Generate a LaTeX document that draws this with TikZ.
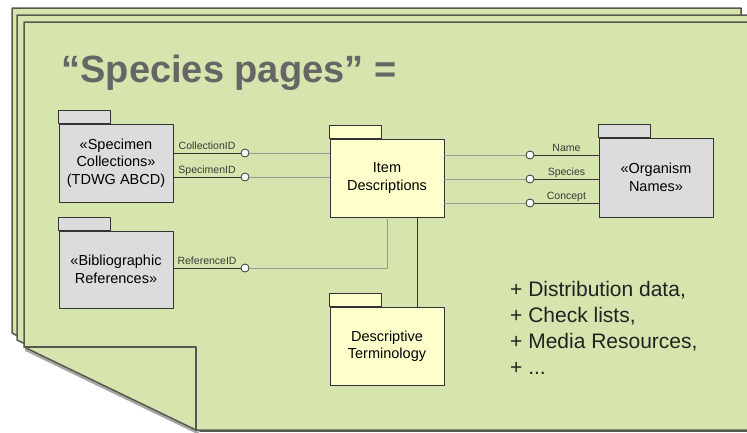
\documentclass[tikz,border=0pt]{standalone}
\usepackage{fontspec}
\setmainfont{Liberation Sans}
\begin{document}
\begin{tikzpicture}[x=1pt, y=-1pt, line cap=round, line join=round,
  pkg/.style={draw=pkgline, line width=1pt, minimum width=114pt, minimum height=78pt,
              inner sep=2pt, align=center, font=\fontsize{14.5}{17.5}\selectfont},
  graypkg/.style={pkg, fill=pkggray},
  yellowpkg/.style={pkg, fill=pkgyellow},
  port/.style={circle, draw=pkgline, fill=white, line width=0.8pt, minimum size=8pt, inner sep=0pt},
  wire/.style={draw=pkgline, line width=1pt},
  lightwire/.style={draw=wiregray, line width=1pt},
  lbl/.style={font=\fontsize{10.5}{12}\selectfont, text=labelgray, anchor=base, yshift=4pt, inner sep=0pt},
  page/.style={draw=pageline, line width=1.5pt, fill=pagegreen}]
  \definecolor{pagegreen}{HTML}{D5E5AD}
  \definecolor{pageline}{HTML}{55594F}
  \definecolor{pkggray}{HTML}{DCDCDC}
  \definecolor{pkgyellow}{HTML}{FFFFCC}
  \definecolor{pkgline}{HTML}{333333}
  \definecolor{wiregray}{HTML}{9A9A9A}
  \definecolor{labelgray}{HTML}{3A3A3A}
  \definecolor{titlegray}{HTML}{666666}
  \definecolor{listtext}{HTML}{222222}
  \useasboundingbox (0,0) rectangle (747,432);
  \clip (0,0) rectangle (747,432);
  % stacked pages
  \draw[page] (12,8) -- (741,8) -- (741,431) -- (200,431) -- (12,333) -- cycle;
  \draw[page] (17,15) -- (760,15) -- (760,431) -- (205,431) -- (17,340) -- cycle;
  \draw[black!35, line width=2.5pt] (26,350) -- (198,433);
  \draw[page] (24,22) -- (760,22) -- (760,430) -- (196,430) -- (24,347) -- cycle;
  \draw[pageline, line width=1.5pt] (24,347) -- (196,347) -- (196,430);
  % title
  \node[anchor=base west, text=titlegray, font=\fontsize{38}{44}\selectfont\bfseries] (title) at (58,82) {“Species pages” =};
  % packages
  \node[graypkg] (spec) at (116,163) {«Specimen\\Collections»\\(TDWG ABCD)};
  \node[graypkg, minimum height=77pt] (bib) at (116,269.5) {«Bibliographic\\References»};
  \node[yellowpkg] (item) at (387,178) {Item\\Descriptions};
  \node[graypkg, minimum height=79pt] (orgn) at (656,177.5) {«Organism\\Names»};
  \node[yellowpkg] (term) at (387,346) {Descriptive\\Terminology};
  \foreach \n/\c in {spec/pkggray, bib/pkggray, item/pkgyellow, orgn/pkggray, term/pkgyellow}
    \draw[draw=pkgline, line width=1pt, fill=\c] (\n.north west) rectangle ++(52,-13);
  % interfaces
  \node[port] (c1) at (245,153) {};
  \node[port] (c2) at (245,177) {};
  \node[port] (c3) at (245,268) {};
  \node[port] (c4) at (530,155) {};
  \node[port] (c5) at (530,179) {};
  \node[port] (c6) at (530,203) {};
  \draw[wire] (c1 -| spec.east) -- node[lbl] {CollectionID} (c1);
  \draw[wire] (c2 -| spec.east) -- node[lbl] {SpecimenID} (c2);
  \draw[wire] (c3 -| bib.east) -- node[lbl] {ReferenceID} (c3);
  \draw[lightwire] (c1) -- (c1 -| item.west);
  \draw[lightwire] (c2) -- (c2 -| item.west);
  \draw[lightwire] (c3) -- (c3 -| item.south) -- (item.south);
  \draw[lightwire] (c4 -| item.east) -- (c4);
  \draw[lightwire] (c5 -| item.east) -- (c5);
  \draw[lightwire] (c6 -| item.east) -- (c6);
  \draw[wire] (c4) -- node[lbl] {Name} (c4 -| orgn.west);
  \draw[wire] (c5) -- node[lbl] {Species} (c5 -| orgn.west);
  \draw[wire] (c6) -- node[lbl] {Concept} (c6 -| orgn.west);
  \coordinate (tj) at ([xshift=30pt]item.south);
  \draw[wire] (tj) -- (tj |- term.north);
  % more content
  \node[anchor=north west, align=left, inner sep=0pt, text=listtext, font=\fontsize{21}{26}\selectfont]
    (extras) at (510,281.5) {+ Distribution data,\\+ Check lists,\\+ Media Resources,\\+ ...};
\end{tikzpicture}
\end{document}
